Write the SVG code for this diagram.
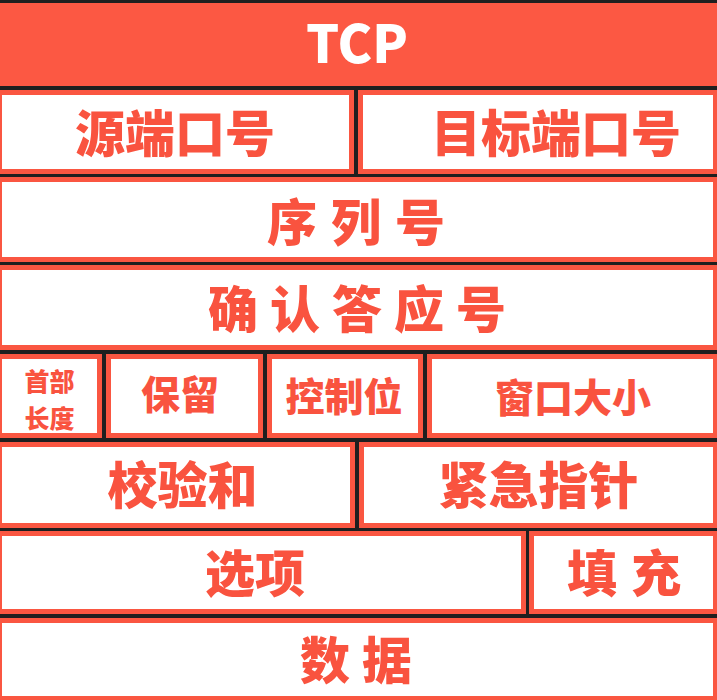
<svg xmlns="http://www.w3.org/2000/svg" width="717" height="700" viewBox="0 0 717 700">
<style>
.cell{fill:#ffffff;stroke:#fa5641;stroke-width:5}
.t{font-family:"Noto Sans CJK SC","Noto Sans",sans-serif;font-weight:900;fill:#f9533f;text-anchor:middle}
.big{font-size:50px}
.mid{font-size:39px}
.sm{font-size:25px}
.hd{font-family:"Noto Sans CJK SC","Noto Sans",sans-serif;font-weight:900;font-size:52px;fill:#ffffff;text-anchor:middle}
</style>
<rect x="0" y="0" width="717" height="700" fill="#1f1f1f"/>
<g id="header">
<rect x="0" y="3" width="717" height="83" fill="#fc5843"/>
<text class="hd" x="357" y="63">TCP</text>
</g>
<g id="src-port">
<rect class="cell" x="-0.5" y="92.5" width="352" height="79"/>
<text class="t big" x="175" y="152">源端口号</text>
</g>
<g id="dst-port">
<rect class="cell" x="360.5" y="92.5" width="355" height="79"/>
<text class="t big" x="556" y="152">目标端口号</text>
</g>
<g id="seq">
<rect class="cell" x="-0.5" y="179.5" width="716" height="80"/>
<text class="t big" x="363" y="241" style="letter-spacing:14px">序列号</text>
</g>
<g id="ack">
<rect class="cell" x="-0.5" y="267.5" width="716" height="80"/>
<text class="t big" x="363" y="328" style="letter-spacing:12px">确认答应号</text>
</g>
<g id="hdr-len">
<rect class="cell" x="-0.5" y="356.5" width="100" height="79"/>
<text class="t sm" x="49.5" y="391">首部</text>
<text class="t sm" x="49.5" y="428">长度</text>
</g>
<g id="reserved">
<rect class="cell" x="108.5" y="356.5" width="152" height="79"/>
<text class="t mid" x="180" y="409">保留</text>
</g>
<g id="flags">
<rect class="cell" x="269.5" y="356.5" width="151" height="79"/>
<text class="t mid" x="344" y="411">控制位</text>
</g>
<g id="window">
<rect class="cell" x="429.5" y="356.5" width="286" height="79"/>
<text class="t mid" x="573" y="412">窗口大小</text>
</g>
<g id="checksum">
<rect class="cell" x="-0.5" y="444.5" width="353" height="81"/>
<text class="t big" x="182.5" y="504">校验和</text>
</g>
<g id="urgent">
<rect class="cell" x="361.5" y="444.5" width="354" height="81"/>
<text class="t big" x="538.5" y="504">紧急指针</text>
</g>
<g id="options">
<rect class="cell" x="-0.5" y="533.5" width="524" height="78"/>
<text class="t big" x="255" y="592">选项</text>
</g>
<g id="padding">
<rect class="cell" x="531.5" y="533.5" width="184" height="78"/>
<text class="t big" x="631" y="592" style="letter-spacing:14px">填充</text>
</g>
<g id="data">
<rect class="cell" x="-0.5" y="620.5" width="716" height="78"/>
<text class="t big" x="362" y="679" style="letter-spacing:12px">数据</text>
</g>
<g id="connectors"></g>
</svg>
